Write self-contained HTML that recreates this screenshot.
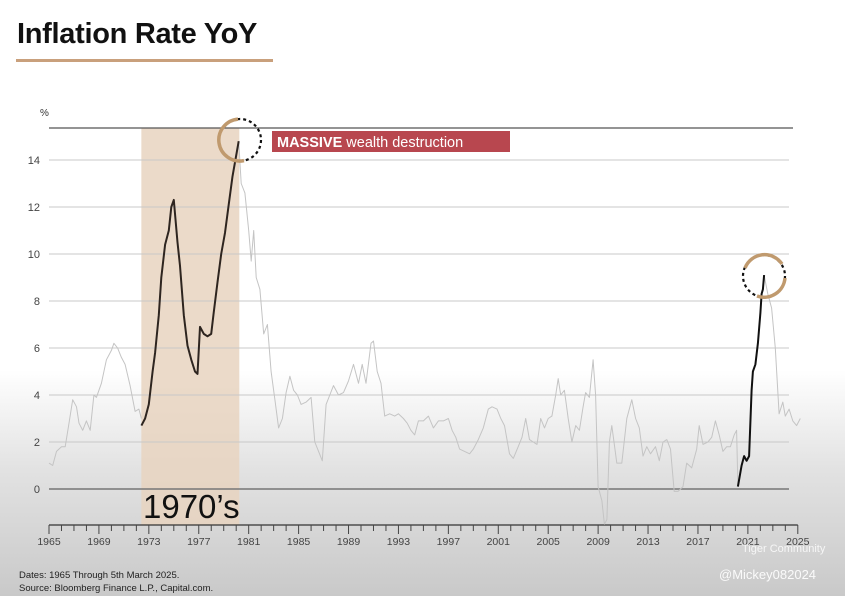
<!DOCTYPE html>
<html><head><meta charset="utf-8"><style>
html,body{margin:0;padding:0;}
body{width:845px;height:596px;overflow:hidden;background:linear-gradient(to bottom,#fff 0px,#fff 370px,#e2e2e2 470px,#c9c9c9 596px);font-family:"Liberation Sans",sans-serif;position:relative;}
.t{position:absolute;}
</style></head><body>
<div class="t" style="left:17px;top:18px;font-size:29px;font-weight:bold;color:#111;letter-spacing:-0.3px;">Inflation Rate YoY</div>
<div class="t" style="left:16px;top:59px;width:257px;height:3px;background:#c9a07c;"></div>
<svg id="chart" width="845" height="596" style="position:absolute;left:0;top:0;"></svg>
<div class="t" style="left:19px;top:570px;font-size:9.5px;color:#222;">Dates: 1965 Through 5th March 2025.</div>
<div class="t" style="left:19px;top:583px;font-size:9.5px;color:#222;">Source: Bloomberg Finance L.P., Capital.com.</div>
<div class="t" style="left:742px;top:543px;font-size:11px;color:rgba(255,255,255,0.8);">Tiger Community</div>
<div class="t" style="left:719px;top:567px;font-size:13px;color:rgba(255,255,255,0.9);">@Mickey082024</div>
<script>
const yTicks=[0,2,4,6,8,10,12,14];
const xLabels=[1965,1969,1973,1977,1981,1985,1989,1993,1997,2001,2005,2009,2013,2017,2021,2025];
const grayYears=[1965.0,1965.3,1965.6,1966.0,1966.3,1966.6,1966.9,1967.2,1967.4,1967.7,1968.0,1968.3,1968.6,1968.8,1969.2,1969.6,1970.0,1970.2,1970.5,1970.8,1971.1,1971.5,1971.9,1972.2,1972.4];
const grayVals=[1.1,1.0,1.6,1.8,1.8,2.8,3.8,3.5,2.8,2.5,2.9,2.5,4.0,3.9,4.5,5.5,5.9,6.2,6.0,5.6,5.3,4.4,3.3,3.4,3.0];
const gray2Years=[1980.2,1980.4,1980.7,1981.0,1981.2,1981.4,1981.6,1981.9,1982.2,1982.5,1982.8,1983.1,1983.4,1983.7,1984.0,1984.3,1984.6,1984.9,1985.2,1985.6,1986.0,1986.3,1986.6,1986.9,1987.2,1987.5,1987.8,1988.2,1988.6,1989.0,1989.4,1989.8,1990.1,1990.4,1990.8,1991.0,1991.3,1991.6,1991.9,1992.3,1992.7,1993.0,1993.4,1993.7,1994.0,1994.3,1994.6,1995.0,1995.4,1995.8,1996.2,1996.6,1997.0,1997.3,1997.6,1997.9,1998.3,1998.7,1999.0,1999.4,1999.8,2000.2,2000.5,2000.9,2001.2,2001.5,2001.9,2002.2,2002.6,2002.9,2003.2,2003.5,2003.8,2004.1,2004.4,2004.7,2005.0,2005.3,2005.6,2005.8,2006.0,2006.3,2006.6,2006.9,2007.2,2007.5,2007.8,2008.0,2008.3,2008.6,2008.8,2009.0,2009.3,2009.5,2009.7,2009.9,2010.1,2010.5,2010.9,2011.3,2011.7,2012.0,2012.3,2012.6,2012.9,2013.2,2013.6,2013.9,2014.2,2014.5,2014.8,2015.1,2015.4,2015.8,2016.1,2016.5,2016.9,2017.1,2017.4,2017.8,2018.1,2018.4,2018.7,2019.0,2019.3,2019.6,2019.9,2020.1,2020.2];
const gray2Vals=[14.8,13.0,12.6,11.0,9.7,11.0,9.0,8.5,6.6,7.0,5.0,3.8,2.6,3.0,4.1,4.8,4.2,4.0,3.6,3.7,3.9,2.0,1.6,1.2,3.6,4.0,4.4,4.0,4.1,4.6,5.3,4.5,5.3,4.5,6.2,6.3,5.0,4.5,3.1,3.2,3.1,3.2,3.0,2.8,2.5,2.3,2.9,2.9,3.1,2.6,2.9,2.9,3.0,2.5,2.2,1.7,1.6,1.5,1.7,2.1,2.6,3.4,3.5,3.4,3.0,2.7,1.5,1.3,1.8,2.2,3.0,2.1,2.0,1.9,3.0,2.6,3.0,3.1,4.0,4.7,4.0,4.2,3.0,2.0,2.7,2.5,3.5,4.1,3.9,5.5,4.0,0.1,-0.5,-1.5,-1.3,2.0,2.7,1.1,1.1,3.0,3.8,3.0,2.6,1.4,1.8,1.5,1.8,1.2,2.0,2.1,1.7,-0.1,-0.1,0.1,1.1,0.9,1.7,2.7,1.9,2.0,2.2,2.9,2.3,1.6,1.8,1.8,2.3,2.5,0.1];
const gray3Years=[2022.3,2022.6,2022.9,2023.2,2023.5,2023.8,2024.0,2024.3,2024.6,2024.9,2025.2];
const gray3Vals=[9.1,8.3,7.7,6.0,3.2,3.7,3.1,3.4,2.9,2.7,3.0];
const b1Years=[1972.4,1972.7,1973.0,1973.3,1973.5,1973.8,1974.0,1974.3,1974.6,1974.8,1975.0,1975.3,1975.5,1975.8,1976.1,1976.4,1976.7,1976.9,1977.1,1977.4,1977.7,1978.0,1978.2,1978.5,1978.8,1979.1,1979.4,1979.7,1980.2];
const b1Vals=[2.7,3.0,3.6,5.0,5.8,7.4,9.0,10.4,11.0,12.0,12.3,10.5,9.5,7.4,6.1,5.5,5.0,4.9,6.9,6.6,6.5,6.6,7.5,8.8,10.0,10.9,12.1,13.3,14.8];
const b2Years=[2020.2,2020.5,2020.7,2020.9,2021.1,2021.3,2021.4,2021.6,2021.8,2022.0,2022.1,2022.2,2022.3];
const b2Vals=[0.1,1.0,1.4,1.2,1.4,4.2,5.0,5.3,6.2,7.5,8.3,8.5,9.1];

const NS='http://www.w3.org/2000/svg';
const svg=document.getElementById('chart');
const X=y=>49+(y-1965)*12.48;
const Y=v=>489-v*23.5;
function el(tag,attrs,parent){const e=document.createElementNS(NS,tag);for(const k in attrs)e.setAttribute(k,attrs[k]);(parent||svg).appendChild(e);return e;}

const shade=el('rect',{x:X(1972.4),y:128,width:X(1980.25)-X(1972.4),height:525-128,fill:'#e7d3c0',opacity:0.85});



yTicks.forEach(v=>{
  const g=el('line',{x1:49,x2:789,y1:Y(v),y2:Y(v),stroke:v===0?'#777':'#c8c8c8','stroke-width':v===0?1.5:1});
  
  
  const t=el('text',{x:40,y:Y(v)+4,'text-anchor':'end','font-size':11,fill:'#444','font-family':'Liberation Sans'});
  t.textContent=v;
  
  
});
const topLine=el('line',{x1:49,x2:793,y1:128,y2:128,stroke:'#555','stroke-width':1.2});


const pct=el('text',{x:40,y:116,'font-size':10,fill:'#333','font-family':'Liberation Sans'});
pct.textContent='%';



const ax=el('line',{x1:49,x2:X(2025),y1:525,y2:525,stroke:'#333','stroke-width':1.2});


for(let yr=1965;yr<=2025;yr++){
  const major=(yr-1965)%4===0;
  const tk=el('line',{x1:X(yr),x2:X(yr),y1:525,y2:major?534:531,stroke:'#444','stroke-width':1});
  
  
}
xLabels.forEach(yr=>{
  const t=el('text',{x:X(yr),y:545,'text-anchor':'middle','font-size':10.5,fill:'#444','font-family':'Liberation Sans'});
  t.textContent=yr;
  
  
});

function line(ys,vs,color,w,name){
  const d=ys.map((y,i)=>(i?'L':'M')+X(y).toFixed(1)+','+Y(vs[i]).toFixed(1)).join('');
  const p=el('path',{d:d,fill:'none',stroke:color,'stroke-width':w,'stroke-linejoin':'round'});
  
  
}
line(grayYears,grayVals,'#c4c4c4',1,'inflation-line-1960s');
line(gray2Years,gray2Vals,'#c4c4c4',1,'inflation-line-1980-2020');
line(gray3Years,gray3Vals,'#c4c4c4',1,'inflation-line-2023');
line(b1Years,b1Vals,'#2e2520',2,'inflation-1970s-highlight');
line(b2Years,b2Vals,'#111',2,'inflation-2021-highlight');

function circ(cx,cy,name,arc){
  const g=el('g',{});
  
  
  el('circle',{cx:cx,cy:cy,r:21,fill:'none',stroke:'#111','stroke-width':2.2,'stroke-dasharray':'3 3'},g);
  el('path',{d:arc,fill:'none',stroke:'#c09a6e','stroke-width':3.5},g);
  return g;
}
circ(240,140,'peak-circle-1980','M244,160.6 A21,21 0 1 1 238,119.1');
circ(764,276,'peak-circle-2022','M745,268 A21,21 0 0 1 782,264 M785,278 A21,21 0 0 1 757,296');

const lb=el('rect',{x:272,y:131,width:238,height:21,fill:'#b8474f'});


const lt=el('text',{x:277,y:147,'font-size':14.5,fill:'#fff','font-family':'Liberation Sans'});
lt.innerHTML='<tspan font-weight="bold">MASSIVE</tspan> wealth destruction';


const dec=el('text',{x:143,y:518,'font-size':33,fill:'#111','font-family':'Liberation Sans'});
dec.textContent='1970\u2019s';


</script>
</body></html>
